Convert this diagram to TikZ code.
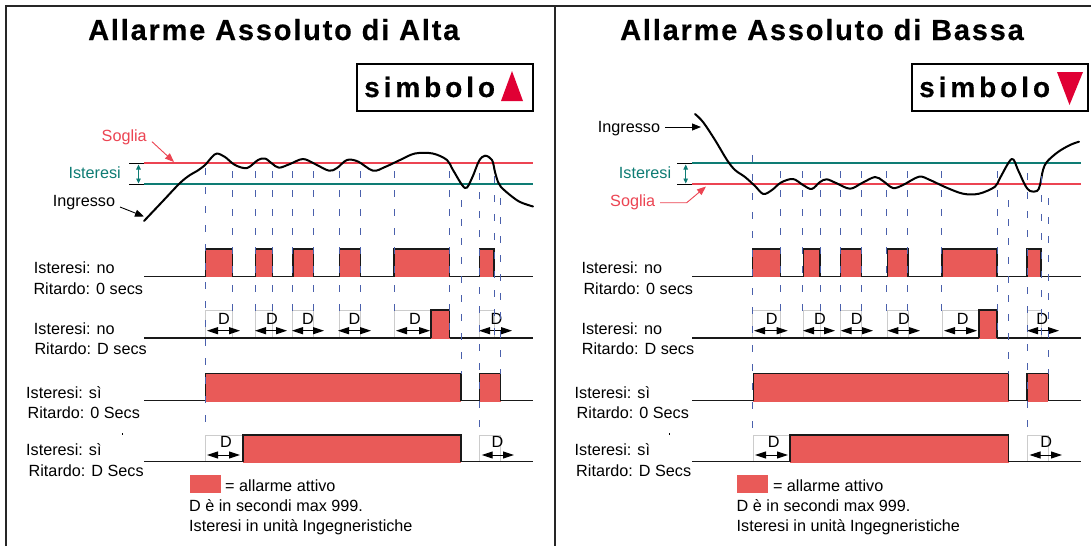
\documentclass[tikz,border=0pt]{standalone}
\usepackage{fontspec}
\setmainfont{Liberation Sans}
\newfontfamily\titlefont[LetterSpace=6.2,BoldFeatures={FakeBold=0.35}]{Liberation Sans}
\newfontfamily\symfont[LetterSpace=14,BoldFeatures={FakeBold=0.35}]{Liberation Sans}
\usetikzlibrary{arrows.meta}
\definecolor{alarmred}{HTML}{E95A58}
\definecolor{threshred}{HTML}{EC4452}
\definecolor{hystgreen}{HTML}{0E7C74}
\definecolor{symred}{HTML}{E00034}
\definecolor{dashblue}{HTML}{4A60AC}
\definecolor{boxgray}{HTML}{CCCCCC}
\tikzset{
  lab/.style={anchor=base west,inner sep=0pt,font=\fontsize{16.2}{16.2}\selectfont},
  dlab/.style={anchor=base,inner sep=0pt,font=\fontsize{16.2}{16.2}\selectfont},
  ttl/.style={anchor=base west,inner sep=0pt,font=\titlefont\bfseries\fontsize{29}{29}\selectfont},
  symb/.style={anchor=base west,inner sep=0pt,font=\symfont\bfseries\fontsize{28}{28}\selectfont},
  frameln/.style={line width=2pt,black!85},
  sigln/.style={line width=1.2pt,black!90},
  gbox/.style={draw=boxgray,line width=1pt},
  dashln/.style={dashblue,line width=.8pt,dash pattern=on 7pt off 12pt},
  curve/.style={line width=2pt,black,line join=round,line cap=round},
  darr/.style={line width=1pt,{Triangle[length=11pt,width=7pt]}-{Triangle[length=11pt,width=7pt]}},
  hyst/.style={hystgreen,line width=.9pt,{Triangle[length=5pt,width=4.5pt]}-{Triangle[length=5pt,width=4.5pt]}},
  callout/.style={line width=.9pt,-{Triangle[length=9pt,width=7pt]}},
}
% base x0, x1, base y, top y, pulses a/b
\newcommand\sigrow[5]{%
  \draw[sigln] (#1,#3) -- (#2,#3);
  \foreach \pa/\pb in {#5}{
    \fill[alarmred] (\pa,#3+.8) rectangle (\pb,#4);
    \draw[sigln,line join=miter] (\pa,#3) -- (\pa,#4) -- (\pb,#4) -- (\pb,#3);
  }}
\newcommand\dboxes[3]{\foreach \pa/\pb in {#3}{\draw[gbox] (\pa,#1) rectangle (\pb,#2);}}
\newcommand\dmark[5]{% x0 x1 yarrow xD yD
  \coordinate (dA) at (#1,#3); \coordinate (dB) at (#2,#3);
  \draw[darr] (dA) -- (dB);
  \node[dlab] at (#4,#5) {D};}
\newcommand\dashes[1]{\foreach \xx/\ya/\yb in {#1}{\draw[dashln] (\xx,\ya) -- (\xx,\yb);}}
\begin{document}
\begin{tikzpicture}[x=1pt,y=-1pt]
\useasboundingbox (0,0) rectangle (1091,546);
\fill[white] (0,0) rectangle (1091,546);
% frame
\draw[frameln] (5.5,546) -- (5.5,6) -- (1091,6);
\draw[frameln] (555,6) -- (555,546);
% titles
\node[ttl] (titleL) at (88,40) {Allarme Assoluto di Alta};
\node[ttl] (titleR) at (620,40) {Allarme Assoluto di Bassa};
% symbol boxes
\draw[line width=1.6pt,black] (357,64) rectangle (533,111);
\node[symb] (symL) at (364,97) {simbolo};
\fill[symred] (501,101) -- (523,101) -- (512,71) -- cycle;
\draw[line width=1.6pt,black] (912,64) rectangle (1088,111);
\node[symb] (symR) at (919,97) {simbolo};
\fill[symred] (1057,72) -- (1083,72) -- (1069.5,105) -- cycle;

%% LEFT PANEL
\draw[threshred,line width=2pt] (144,163.3) -- (533,163.3);
\draw[hystgreen,line width=2pt] (144,184.3) -- (533,184.3);
\draw[line width=.8pt] (129,163.3) -- (144,163.3) (129,184.3) -- (144,184.3);
\coordinate (hLa) at (138.5,164.5); \coordinate (hLb) at (138.5,183.5);
\draw[hyst] (hLa) -- (hLb);
\node[lab,text=threshred] (sogL) at (101.5,141.7) {Soglia};
\node[lab,text=hystgreen] (istL) at (68.3,178.3) {Isteresi};
\node[lab] (ingL) at (52.7,206) {Ingresso};
\coordinate (sogLa) at (152,141.7); \coordinate (sogLb) at (174,162);
\draw[callout,threshred] (sogLa) -- (sogLb);
\coordinate (ingLa) at (120,207); \coordinate (ingLb) at (144,216.5);
\draw[callout] (ingLa) -- (ingLb);
\draw[curve] plot[smooth,tension=.55] coordinates {(144,221) (162,202) (180,183) (190,175) (197,171) (205,165) (212,157) (217,153.5) (225,157) (235,165) (247,168) (258,160) (265,158.5) (272,163.5) (279,167.7) (290,164) (303,159) (315,164) (329,170.7) (337,168) (347,160) (358,161.5) (373,170.7) (385,167) (400,160) (415,153.5) (432.7,153.5) (447,160) (453,170) (465,188) (472,178) (479,161) (485,155.7) (492,160) (495,172) (498,182) (501,187) (510,195) (520,202) (533,206.5)};
% rows
\dboxes{310}{338}{205.5/232.5,255/272.5,292.5/313.5,339.5/360,394/431,479.5/494}
\dboxes{435}{461.7}{205.5/243,479.5/500.5}
\sigrow{144}{533}{276.5}{249}{205.5/232.5,255.5/272.5,293/313.5,339.5/360.5,394/449.5,479.5/494}
\sigrow{144}{533}{338}{310}{431/449.5}
\sigrow{144}{533}{400.7}{373.7}{205.5/461,479.5/500.5}
\sigrow{144}{533}{461.7}{435}{243/461}
\dmark{207}{240}{330.7}{224}{324}
\dmark{255}{287}{330.7}{272}{324}
\dmark{292}{324}{330.7}{308}{324}
\dmark{338}{371}{330.7}{354.5}{324}
\dmark{396}{430}{330.7}{415}{324}
\dmark{479}{512}{330.7}{496.5}{324}
\dmark{207}{240}{455}{226}{447.7}
\dmark{481.7}{514}{455}{497.5}{447.7}
\node[lab] (l1) at (33.7,273.3) {Isteresi: no};
\node[lab] (l2) at (33.3,294) {Ritardo: 0 secs};
\node[lab] (l3) at (33.7,334.3) {Isteresi: no};
\node[lab] (l4) at (34.3,354) {Ritardo: D secs};
\node[lab] (l5) at (26,398.3) {Isteresi: sì};
\node[lab] (l6) at (27.5,418) {Ritardo: 0 Secs};
\fill (121.7,432.5) rectangle (122.5,434.5);
\node[lab] (l7) at (26,455.7) {Isteresi: sì};
\node[lab] (l8) at (28.5,476.7) {Ritardo: D Secs};
\fill[alarmred] (190,475) rectangle (221,492.7);
\node[lab] (l9) at (225,491) {= allarme attivo};
\node[lab] (l10) at (189,511) {D è in secondi max 999.};
\node[lab] (l11) at (189,531.7) {Isteresi in unità Ingegneristiche};
\dashes{205.5/168/428,232.5/171/312,255/171/312,272.5/171/312,292.5/171/312,313.5/171/312,339/171/312,360/171/312,394/171/312,449.5/171/340,461.3/200/374,479/173/428,494/176/340,500.5/198/374}

%% RIGHT PANEL
\draw[hystgreen,line width=2pt] (692.3,163.3) -- (1081,163.3);
\draw[threshred,line width=2pt] (692.3,184.3) -- (1081,184.3);
\draw[line width=.8pt] (677,163.3) -- (692.3,163.3) (677,184.3) -- (692.3,184.3);
\coordinate (hRa) at (685.7,164.5); \coordinate (hRb) at (685.7,183.5);
\draw[hyst] (hRa) -- (hRb);
\node[lab] (ingR) at (597.7,132.7) {Ingresso};
\node[lab,text=hystgreen] (istR) at (618.7,178.3) {Isteresi};
\node[lab,text=threshred] (sogR) at (610,206.7) {Soglia};
\coordinate (ingRa) at (665,127); \coordinate (ingRb) at (701,127);
\draw[callout] (ingRa) -- (ingRb);
\coordinate (sogRa) at (660,202.7); \coordinate (sogRm) at (686.7,202.7); \coordinate (sogRb) at (706,186.5);
\draw[callout,threshred] (sogRa) -- (sogRm) -- (sogRb);
\draw[curve] plot[smooth,tension=.55] coordinates {(695,114) (703,122) (715,140) (727,160) (735,170) (745,177) (755,186) (763.3,194) (772,190) (781,182.5) (793,179) (803,185) (811.7,189) (820,182) (826.7,179.3) (836,183) (850,188.7) (862,183) (875,177) (883,181) (893,188) (903,185) (919,176.7) (930,180) (945,187) (963,193.7) (979,193.7) (995,186.7) (1000,178) (1011.7,159) (1018,170) (1025,185) (1030,191) (1037,191) (1040,185) (1043,170) (1047,161.7) (1058,152) (1070,145) (1079,141.7)};
\dboxes{310}{338}{752.3/780.7,803.3/820,840.7/861.7,887.3/908,942/979,1027/1041}
\dboxes{435}{461.7}{753.3/790,1027/1048.3}
\sigrow{692.3}{1081}{276.5}{249}{752.3/780.7,803.3/820,840.7/861.7,887.3/908,942/997,1027/1041}
\sigrow{692.3}{1081}{338}{310}{979/997}
\sigrow{692.3}{1081}{400.7}{373.7}{753.3/1008.7,1027/1048.3}
\sigrow{692.3}{1081}{461.7}{435}{790/1008.7}
\dmark{754}{787.7}{330.7}{771.7}{324}
\dmark{803}{835}{330.7}{820}{324}
\dmark{840.7}{873}{330.7}{856.7}{324}
\dmark{887.3}{920}{330.7}{904}{324}
\dmark{944}{977}{330.7}{962.7}{324}
\dmark{1027}{1059}{330.7}{1042.3}{324}
\dmark{755}{788}{455}{773.8}{447.7}
\dmark{1029.5}{1062}{455}{1046.3}{447.7}
\node[lab] (r1) at (581.3,273.3) {Isteresi: no};
\node[lab] (r2) at (583.3,294) {Ritardo: 0 secs};
\node[lab] (r3) at (581.3,334.3) {Isteresi: no};
\node[lab] (r4) at (581.7,354) {Ritardo: D secs};
\node[lab] (r5) at (574.5,398.3) {Isteresi: sì};
\node[lab] (r6) at (576.5,418) {Ritardo: 0 Secs};
\fill (669.2,432.5) rectangle (670,434.5);
\node[lab] (r7) at (574.5,455.7) {Isteresi: sì};
\node[lab] (r8) at (576,476.7) {Ritardo: D Secs};
\fill[alarmred] (737,475) rectangle (768,492.7);
\node[lab] (r9) at (772.8,491) {= allarme attivo};
\node[lab] (r10) at (736.5,511) {D è in secondi max 999.};
\node[lab] (r11) at (736.5,531.7) {Isteresi in unità Ingegneristiche};
\dashes{752.3/155/428,780.3/171/312,802.7/171/312,820/171/312,840.3/171/312,861.3/171/312,886.7/171/312,907.7/171/312,941.7/171/312,997/171/340,1008.3/200/374,1027/173/428,1041/176/340,1048/198/374}
\end{tikzpicture}
\end{document}
